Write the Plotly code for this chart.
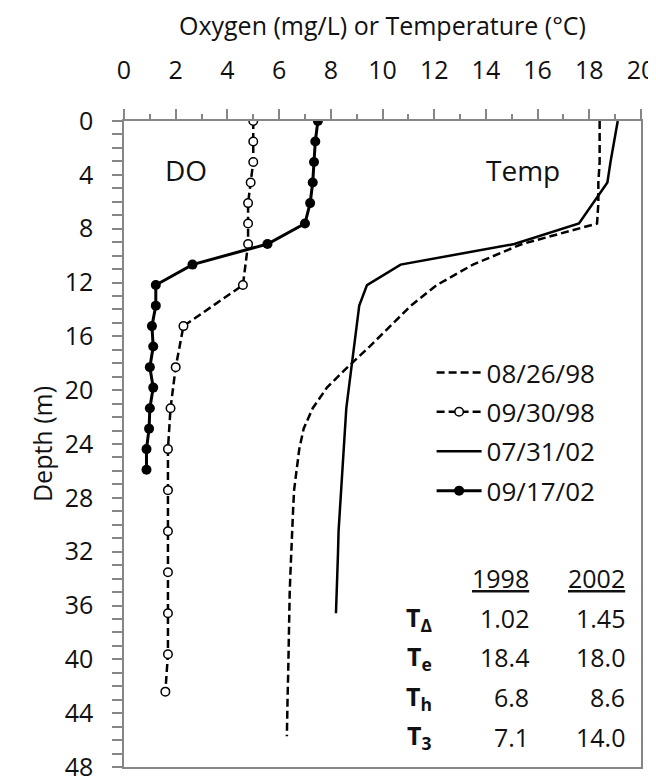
import plotly.graph_objects as go

# ---- data (depth in m) ----
depth_t98 = [0, 1.52, 3.05, 4.57, 6.10, 7.62, 9.14, 10.67, 12.19, 13.72, 15.24, 16.76,
             18.29, 19.81, 21.34, 22.86, 24.38, 25.91, 27.43, 28.96, 30.48, 32.00,
             33.53, 35.05, 36.58, 38.10, 39.62, 41.15, 42.67, 44.20, 45.72]
temp_0826_98 = [18.4, 18.4, 18.4, 18.35, 18.35, 18.3, 15.4, 13.5, 12.1, 11.1, 10.3, 9.5,
                8.65, 7.85, 7.3, 6.95, 6.78, 6.67, 6.58, 6.54, 6.5, 6.47,
                6.44, 6.41, 6.4, 6.38, 6.37, 6.35, 6.33, 6.32, 6.3]

depth_do98 = [0, 1.52, 3.05, 4.57, 6.10, 7.62, 9.14, 12.19, 15.24, 18.29, 21.34, 24.38,
              27.43, 30.48, 33.53, 36.58, 39.62, 42.4]
do_0930_98 = [5.0, 5.0, 5.0, 4.9, 4.8, 4.8, 4.8, 4.6, 2.3, 2.0, 1.8, 1.7,
              1.7, 1.7, 1.7, 1.7, 1.7, 1.6]

depth_t02 = [0, 1.52, 3.05, 4.57, 6.10, 7.62, 9.14, 10.67, 12.19, 13.72, 15.24, 16.76,
             18.29, 19.81, 21.34, 22.86, 24.38, 25.91, 27.43, 28.96, 30.48, 32.00,
             33.53, 35.05, 36.58]
temp_0731_02 = [19.1, 18.95, 18.82, 18.7, 18.15, 17.6, 15.1, 10.7, 9.4, 9.1, 9.0, 8.9,
                8.8, 8.7, 8.6, 8.55, 8.5, 8.45, 8.4, 8.35, 8.3, 8.28,
                8.25, 8.22, 8.2]

depth_do02 = [0, 1.52, 3.05, 4.57, 6.10, 7.62, 9.14, 10.67, 12.19, 13.72, 15.24, 16.76,
              18.29, 19.81, 21.34, 22.86, 24.38, 25.91]
do_0917_02 = [7.5, 7.4, 7.35, 7.3, 7.2, 7.0, 5.55, 2.65, 1.23, 1.23, 1.08, 1.13,
              1.0, 1.13, 1.0, 0.97, 0.87, 0.87]

x_ticks = list(range(0, 21, 2))
y_ticks = list(range(0, 49, 4))

table_rows = ["T<sub>Δ</sub>", "T<sub>e</sub>", "T<sub>h</sub>", "T<sub>3</sub>"]
table_1998 = ["1.02", "18.4", "6.8", "7.1"]
table_2002 = ["1.45", "18.0", "8.6", "14.0"]

FONT = "Open Sans"
AX = "#868686"
TXT = "#111111"

fig = go.Figure()
fig.add_trace(go.Scatter(x=temp_0826_98, y=depth_t98, mode="lines", name="08/26/98",
                         legendgroup="a",
                         line=dict(color="black", width=2.5, dash="8px,4px")))
fig.add_trace(go.Scatter(x=do_0930_98, y=depth_do98, mode="lines+markers", name="09/30/98",
                         legendgroup="b",
                         line=dict(color="black", width=2.5, dash="8px,4px"),
                         marker=dict(symbol="circle", size=8.5, color="white",
                                     line=dict(color="black", width=1.5))))
fig.add_trace(go.Scatter(x=temp_0731_02, y=depth_t02, mode="lines", name="07/31/02",
                         legendgroup="c",
                         line=dict(color="black", width=2.5)))
fig.add_trace(go.Scatter(x=do_0917_02, y=depth_do02, mode="lines+markers", name="09/17/02",
                         legendgroup="d",
                         line=dict(color="black", width=3),
                         marker=dict(symbol="circle", size=10, color="black")))

ann = []
ann.append(dict(x=2.38, y=3.67, text="DO", showarrow=False, font=dict(size=28)))
ann.append(dict(x=15.44, y=3.67, text="Temp", showarrow=False, font=dict(size=28)))
ann.append(dict(x=15.73, y=33.94, text="<u>1998</u>", showarrow=False, xanchor="right"))
ann.append(dict(x=19.45, y=33.94, text="<u>2002</u>", showarrow=False, xanchor="right"))
row_y = [36.96, 39.86, 42.8, 45.77]
for lab, v1, v2, yy in zip(table_rows, table_1998, table_2002, row_y):
    ann.append(dict(x=12.0, y=yy, text="<b>" + lab + "</b>", showarrow=False, xanchor="right"))
    ann.append(dict(x=15.73, y=yy, text=v1, showarrow=False, xanchor="right"))
    ann.append(dict(x=19.45, y=yy, text=v2, showarrow=False, xanchor="right"))
for a in ann:
    a["xref"] = "x"
    a["yref"] = "y"
    a.setdefault("font", dict(size=25))

fig.update_layout(
    width=656, height=784,
    margin=dict(l=116, r=20, t=113, b=9),
    paper_bgcolor="white", plot_bgcolor="white",
    font=dict(family=FONT, size=25, color=TXT),
    showlegend=True,
    legend=dict(x=0.595, y=0.647, xanchor="left", yanchor="top", itemwidth=45,
                bgcolor="rgba(0,0,0,0)", font=dict(size=26), tracegroupgap=2.6),
    annotations=ann,
    xaxis=dict(side="top", range=[0, 20], tickvals=x_ticks, ticktext=[str(v) for v in x_ticks],
               ticks="outside", ticklen=10, tickcolor=AX, tickwidth=1.5,
               minor=dict(dtick=1, ticks="outside", ticklen=5, tickcolor=AX, tickwidth=1.5),
               showline=True, linecolor=AX, linewidth=1.5, mirror=True,
               showgrid=False, zeroline=False, ticklabeloverflow="allow",
               ticklabelstandoff=20,
               title=dict(text="Oxygen (mg/L) or Temperature (°C)", standoff=12,
                          font=dict(size=25)),
               tickfont=dict(size=25)),
    yaxis=dict(range=[48, 0], tickvals=y_ticks, ticktext=[str(v) for v in y_ticks],
               ticks="outside", ticklen=10, tickcolor=AX, tickwidth=1.5,
               minor=dict(dtick=1, ticks="outside", ticklen=10, tickcolor=AX, tickwidth=1.5),
               showline=True, linecolor=AX, linewidth=1.5, mirror=True,
               showgrid=False, zeroline=False, ticklabeloverflow="allow",
               ticklabelstandoff=14,
               title=dict(text="Depth (m)", standoff=5, font=dict(size=25)),
               tickfont=dict(size=25)),
)

fig.write_html("out.html")
